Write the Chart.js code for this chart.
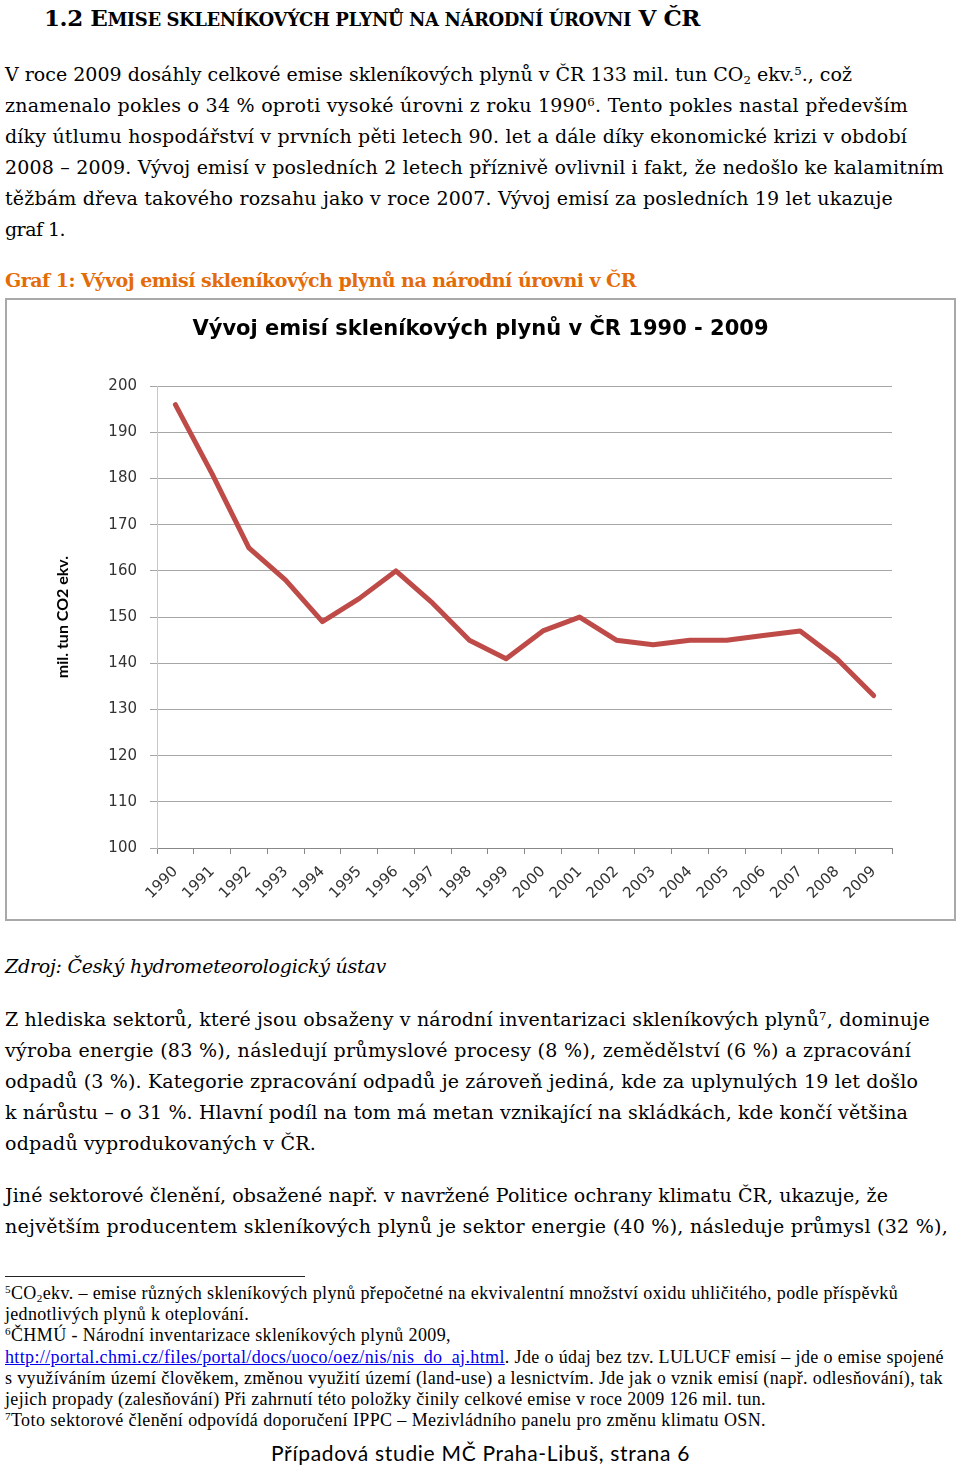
<!DOCTYPE html>
<html lang="cs">
<head>
<meta charset="utf-8">
<script src="https://cdn.jsdelivr.net/npm/chart.js@4.4.0/dist/chart.umd.min.js"></script>
<style>
body{margin:0;width:960px;height:1467px;position:relative;background:#fff;color:#000;overflow:hidden}
.blk{position:absolute;left:5px;white-space:nowrap}
.ln{display:block;width:max-content}
.ser{font-family:"DejaVu Serif",serif;font-size:19px;line-height:31px}
.h2{left:44px;top:3px;font-family:"DejaVu Serif",serif;font-weight:bold;font-size:23px;line-height:30px}
.h2 small{font-size:18px}
.cap{font-weight:bold;color:#e36c09}
.src{font-style:italic}
.fn{font-family:"Liberation Serif","Times New Roman",serif;font-size:18px;line-height:21.2px}
.fn a{color:#0000ee;text-decoration:underline}
sup,sub{font-size:0.62em;line-height:0;position:relative;vertical-align:baseline}
sup{top:-0.55em}
sub{top:0.25em}
.sep{position:absolute;left:5px;top:1276px;width:300px;height:1px;background:#222}
.foot{position:absolute;left:271px;top:1438px;font-family:Lato,sans-serif;font-size:21px;line-height:30px;white-space:nowrap}
.frame{position:absolute;left:5px;top:298px;width:951px;height:623px;border:2px solid #a9a9a9;box-sizing:border-box}
.frame canvas{display:block}
</style>
</head>
<body>
<div class="blk h2"><span class="ln" data-r="700">1.2 E<small>MISE SKLENÍKOVÝCH PLYNŮ NA NÁRODNÍ ÚROVNI</small> V ČR</span></div>

<div class="blk ser" style="top:59px">
<span class="ln" data-r="852">V roce 2009 dosáhly celkové emise skleníkových plynů v ČR 133 mil. tun CO<sub>2</sub> ekv.<sup>5</sup>., což</span>
<span class="ln" data-r="908">znamenalo pokles o 34 % oproti vysoké úrovni z roku 1990<sup>6</sup>. Tento pokles nastal především</span>
<span class="ln" data-r="907">díky útlumu hospodářství v prvních pěti letech 90. let a dále díky ekonomické krizi v období</span>
<span class="ln" data-r="944">2008 – 2009. Vývoj emisí v posledních 2 letech příznivě ovlivnil i fakt, že nedošlo ke kalamitním</span>
<span class="ln" data-r="893">těžbám dřeva takového rozsahu jako v roce 2007. Vývoj emisí za posledních 19 let ukazuje</span>
<span class="ln" data-r="65">graf 1.</span>
</div>

<div class="blk ser cap" style="top:265px"><span class="ln" data-r="636">Graf 1: Vývoj emisí skleníkových plynů na národní úrovni v ČR</span></div>

<div class="frame"><canvas id="graf" width="947" height="619"></canvas></div>

<div class="blk ser src" style="top:951px"><span class="ln" data-r="386">Zdroj: Český hydrometeorologický ústav</span></div>

<div class="blk ser" style="top:1004px">
<span class="ln" data-r="930">Z hlediska sektorů, které jsou obsaženy v národní inventarizaci skleníkových plynů<sup>7</sup>, dominuje</span>
<span class="ln" data-r="911">výroba energie (83 %), následují průmyslové procesy (8 %), zemědělství (6 %) a zpracování</span>
<span class="ln" data-r="918">odpadů (3 %). Kategorie zpracování odpadů je zároveň jediná, kde za uplynulých 19 let došlo</span>
<span class="ln" data-r="908">k nárůstu – o 31 %. Hlavní podíl na tom má metan vznikající na skládkách, kde končí většina</span>
<span class="ln" data-r="316">odpadů vyprodukovaných v ČR.</span>
</div>

<div class="blk ser" style="top:1180px">
<span class="ln" data-r="888">Jiné sektorové členění, obsažené např. v navržené Politice ochrany klimatu ČR, ukazuje, že</span>
<span class="ln" data-r="948">největším producentem skleníkových plynů je sektor energie (40 %), následuje průmysl (32 %),</span>
</div>

<div class="sep"></div>

<div class="blk fn" style="top:1283px">
<span class="ln" data-r="898"><sup>5</sup>CO<sub>2</sub>ekv. – emise různých skleníkových plynů přepočetné na ekvivalentní množství oxidu uhličitého, podle příspěvků</span>
<span class="ln" data-r="249">jednotlivých plynů k oteplování.</span>
<span class="ln" data-r="451"><sup>6</sup>ČHMÚ - Národní inventarizace skleníkových plynů 2009,</span>
<span class="ln" data-r="944"><a>http://portal.chmi.cz/files/portal/docs/uoco/oez/nis/nis_do_aj.html</a>. Jde o údaj bez tzv. LULUCF emisí – jde o emise spojené</span>
<span class="ln" data-r="943">s využíváním území člověkem, změnou využití území (land-use) a lesnictvím. Jde jak o vznik emisí (např. odlesňování), tak</span>
<span class="ln" data-r="766">jejich propady (zalesňování) Při zahrnutí této položky činily celkové emise v roce 2009 126 mil. tun.</span>
<span class="ln" data-r="766"><sup>7</sup>Toto sektorové členění odpovídá doporučení IPPC – Mezivládního panelu pro změnu klimatu OSN.</span>
</div>

<div class="foot"><span class="ln" data-r="690">Případová studie MČ Praha-Libuš, strana 6</span></div>

<script>
// data grafu – mil. tun CO2 ekv.
const roky = ['1990','1991','1992','1993','1994','1995','1996','1997','1998','1999',
  '2000','2001','2002','2003','2004','2005','2006','2007','2008','2009'];
const emise = [196, 181, 165, 158, 149, 154, 160, 153, 145, 141,
  147, 150, 145, 144, 145, 145, 146, 147, 141, 133];
const yMin = 100, yMax = 200, yKrok = 10;

const nadpis = 'Vývoj emisí skleníkových plynů v ČR 1990 - 2009';
const osaY = 'mil. tun CO2 ekv.';

Chart.defaults.font.family = '"DejaVu Sans", sans-serif';

new Chart(document.getElementById('graf').getContext('2d'), {
  type: 'line',
  data: {
    labels: roky,
    datasets: [{ data: emise, yAxisID: 'y', borderColor: '#be4b48', borderWidth: 5, pointRadius: 0, tension: 0, borderJoinStyle: 'round', borderCapStyle: 'round' }]
  },
  options: {
    responsive: false,
    animation: false,
    layout: { padding: { top: 2, right: 0, left: 0, bottom: 0 } },
    plugins: {
      legend: { display: false },
      tooltip: { enabled: false },
      title: {
        display: true, text: nadpis, color: '#000',
        font: { family: '"DejaVu Sans", sans-serif', size: 21, weight: 'bold' },
        padding: { top: 15, bottom: 44 }
      }
    },
    scales: {
      x: {
        offset: true,
        grid: { offset: true, drawOnChartArea: false, drawTicks: true, tickLength: 6, color: '#888' },
        border: { color: '#888' },
        ticks: { minRotation: 45, maxRotation: 45, autoSkip: false, padding: 9, color: '#333', font: { size: 15 } },
        afterFit: s => { s.height = 71; }
      },
      y: {
        min: yMin, max: yMax,
        grid: { color: '#a6a6a6', lineWidth: 1, tickLength: 7 },
        border: { color: '#c8c8c8' },
        ticks: { stepSize: yKrok, padding: 13, color: '#333', font: { size: 15 } },
        title: { display: true, text: osaY, color: '#000', font: { family: 'Lato, sans-serif', size: 16, weight: 'bold' }, padding: { top: 46, bottom: 0 } },
        afterFit: s => { s.width = 150; }
      },
      // prázdný pravý okraj, aby byl nadpis vystředěn přes celý rámeček
      okraj: {
        type: 'linear', position: 'right',
        grid: { display: false }, border: { display: false }, ticks: { display: false },
        afterFit: s => { s.width = 62; }
      }
    }
  }
});

// dorovnání šířky řádků textu podle předlohy
function dorovnej() {
  document.querySelectorAll('[data-r]').forEach(el => {
    el.style.letterSpacing = '0px';
    const b = el.getBoundingClientRect();
    const n = el.textContent.length;
    el.style.letterSpacing = ((+el.dataset.r - b.right) / n).toFixed(3) + 'px';
  });
}
dorovnej();
document.fonts.ready.then(dorovnej);
</script>
</body>
</html>
